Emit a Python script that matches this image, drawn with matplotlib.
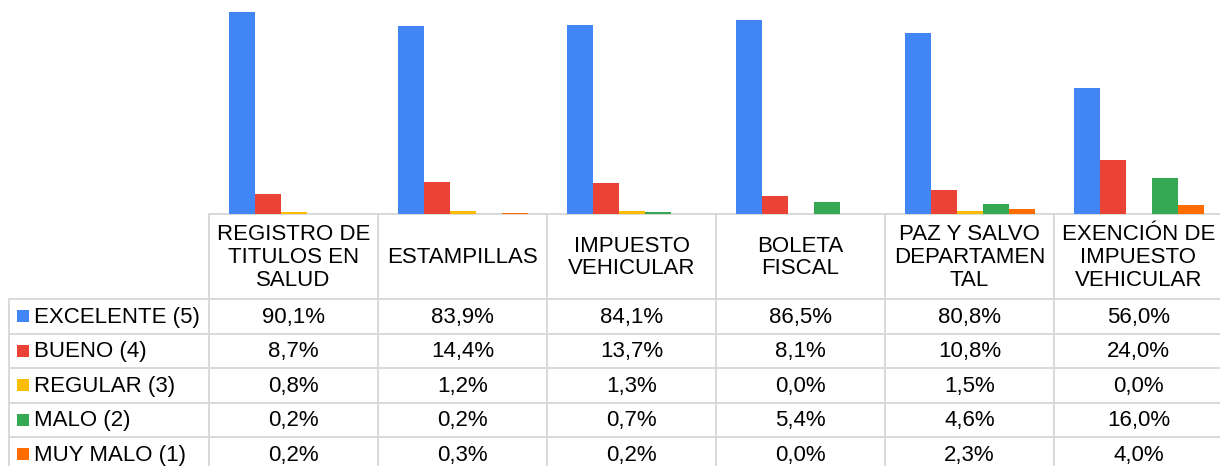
import matplotlib
matplotlib.use("Agg")
import matplotlib.pyplot as plt
import numpy as np

plt.rcParams['font.family'] = ['Liberation Sans', 'DejaVu Sans']

categories = ["REGISTRO DE\nTITULOS EN\nSALUD", "ESTAMPILLAS", "IMPUESTO\nVEHICULAR",
              "BOLETA\nFISCAL", "PAZ Y SALVO\nDEPARTAMEN\nTAL", "EXENCIÓN DE\nIMPUESTO\nVEHICULAR"]
series_names = ["EXCELENTE (5)", "BUENO (4)", "REGULAR (3)", "MALO (2)", "MUY MALO (1)"]
excelente = [90.1, 83.9, 84.1, 86.5, 80.8, 56.0]
bueno = [8.7, 14.4, 13.7, 8.1, 10.8, 24.0]
regular = [0.8, 1.2, 1.3, 0.0, 1.5, 0.0]
malo = [0.2, 0.2, 0.7, 5.4, 4.6, 16.0]
muy_malo = [0.2, 0.3, 0.2, 0.0, 2.3, 4.0]
series = [excelente, bueno, regular, malo, muy_malo]
colors = ["#4285F4", "#EA4335", "#FBBC04", "#34A853", "#FF6D01"]

W, H = 1220, 466
fig = plt.figure(figsize=(W / 100, H / 100), dpi=100)

# layout in pixels
tab_left = 209
col_w = 169
base_y = 214
head_bot = 299
row_h = 34.5
leg_left = 9
grid_col = "#d9d9d9"

# background axes for the data table
tab = fig.add_axes([0, 0, 1, 1])
tab.set_xlim(0, W)
tab.set_ylim(H, 0)
tab.axis("off")

# bars
ax = fig.add_axes([tab_left / W, (H - base_y) / H, col_w * 6 / W, base_y / H])
ax.set_xlim(-0.5, 5.5)
ax.set_ylim(0, base_y / 2.242)
ax.axis("off")
x = np.arange(len(categories))
bw = 26 / col_w
for i, (vals, c) in enumerate(zip(series, colors)):
    v = np.array(vals)
    pos = x + (i - 2) * bw
    mask = v > 0
    ax.bar(pos[mask], v[mask], width=bw, color=c, edgecolor="none")

lw = 1.4
n_rows = len(series)
row_lines = [head_bot + k * row_h for k in range(n_rows + 1)]
tab.plot([tab_left, W], [base_y, base_y], color=grid_col, lw=lw)
for yl in row_lines:
    tab.plot([leg_left, W], [yl, yl], color=grid_col, lw=lw)
for k in range(len(categories) + 1):
    xv = tab_left + k * col_w
    tab.plot([xv, xv], [base_y, H + 5], color=grid_col, lw=lw)
tab.plot([leg_left, leg_left], [head_bot, H + 5], color=grid_col, lw=lw)

fs = 16
for k, cat in enumerate(categories):
    cx = tab_left + (k + 0.5) * col_w
    tab.text(cx, (base_y + head_bot) / 2 + 1, cat, ha="center", va="center",
             fontsize=fs, linespacing=1.1, color="#000000")

for r, (name, vals, c) in enumerate(zip(series_names, series, colors)):
    cy = head_bot + (r + 0.5) * row_h
    tab.add_patch(plt.Rectangle((17, cy - 6), 12, 12, color=c, lw=0))
    tab.text(34, cy + 1, name, ha="left", va="center", fontsize=fs, color="#000000")
    for k, v in enumerate(vals):
        cx = tab_left + (k + 0.5) * col_w
        tab.text(cx, cy + 1, f"{v:.1f}%".replace(".", ","), ha="center", va="center",
                 fontsize=fs, color="#000000")

fig.savefig("out.png", dpi=100)
